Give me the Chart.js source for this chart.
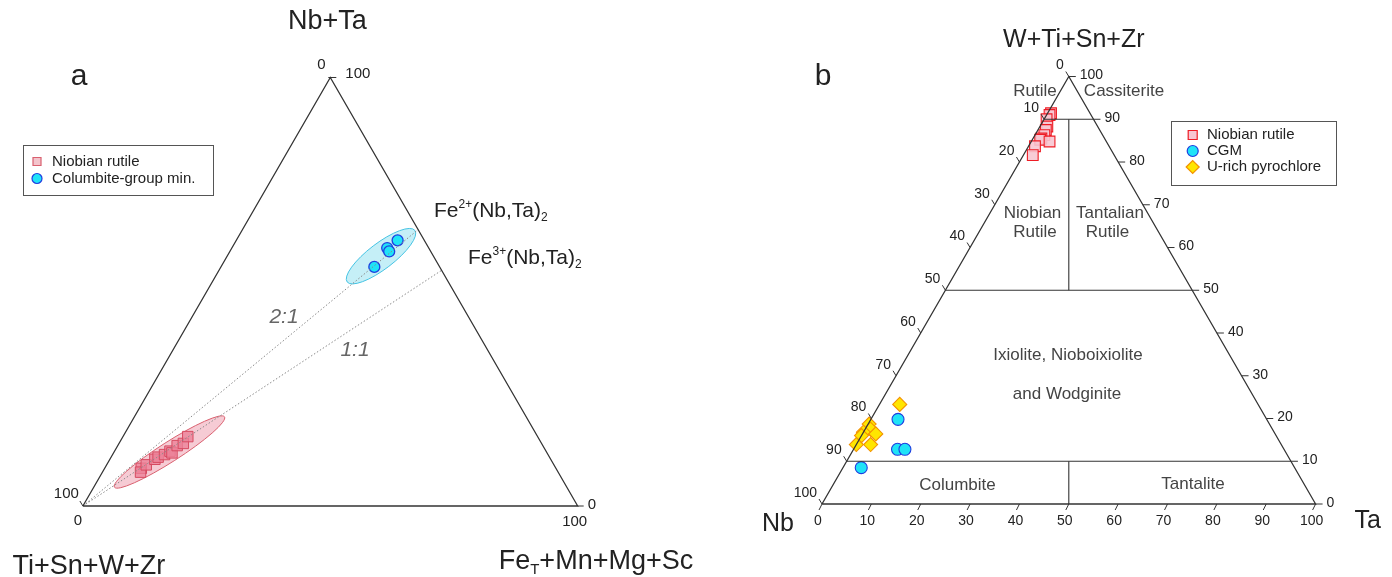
<!DOCTYPE html>
<html>
<head>
<meta charset="utf-8">
<script src="https://cdn.jsdelivr.net/npm/chart.js@4.4.1/dist/chart.umd.min.js"></script>
<style>
  html, body { margin: 0; padding: 0; background: #fff; }
  #wrap { position: relative; width: 1392px; height: 577px; overflow: hidden; }
  canvas { position: absolute; top: 0; }
</style>
</head>
<body>
<div id="wrap">
  <canvas id="chartA" width="740" height="577" style="left:0"></canvas>
  <canvas id="chartB" width="652" height="577" style="left:740px"></canvas>
</div>
<script>
// ---------- diagram a : Nb+Ta (top) vs FeT+Mn+Mg+Sc (right), rest = Ti+Sn+W+Zr ----------
const rutileA_NbTa = [8.8, 7.9, 9.6, 10.9, 11.4, 12.0, 12.8, 12.4, 14.1, 14.6, 16.2];
const rutileA_Fe   = [7.4, 7.7, 8.0, 9.1, 9.5, 10.5, 11.2, 11.8, 12.0, 13.0, 13.1];
const cgmA_NbTa = [55.8, 60.2, 59.4, 62.0];
const cgmA_Fe   = [31.0, 31.4, 32.2, 32.6];
// ratio lines from the Ti corner to the right edge
const ratioLabels  = ["2:1", "1:1"];
const ratioEndNbTa = [64.5, 55.0];
const ratioEndFe   = [35.5, 45.0];

// ---------- diagram b : W+Ti+Sn+Zr (top) vs Ta (right), rest = Nb ----------
const rutileB_W  = [91.4, 91.0, 90.0, 88.3, 87.5, 86.3, 85.5, 85.2, 84.8, 83.7, 81.6];
const rutileB_Ta = [0.7, 0.6, 0.5, 1.5, 1.6, 1.9, 1.7, 1.6, 3.7, 1.3, 1.9];
const cgmB_W  = [19.8, 12.8, 12.8, 8.5];
const cgmB_Ta = [5.5, 8.9, 10.4, 3.7];
const pyroB_W  = [23.3, 18.7, 17.5, 16.8, 16.4, 16.0, 13.9, 13.9];
const pyroB_Ta = [4.1, 0.2, 1.1, 0.0, 2.7, 0.0, 0.0, 2.9];
const tickValues = [0, 10, 20, 30, 40, 50, 60, 70, 80, 90, 100];

const FONT = "'Liberation Sans', Arial, sans-serif";
const H = Math.sqrt(3) / 2;
// ternary (top %, right %) -> cartesian
function tern(top, right) { return { x: right + top / 2, y: top * H }; }
function pts(tops, rights) { return tops.map((t, i) => tern(t, rights[i])); }

function makeScales(w, h, left, base, side) {
  const u = side / 100;
  return {
    x: { type: 'linear', display: false, min: -left / u, max: (w - left) / u },
    y: { type: 'linear', display: false, min: -(h - base) / u, max: base / u }
  };
}

function lineSet(data, color, width, dash) {
  return { type: 'scatter', data: data, showLine: true, borderColor: color, borderWidth: width,
           borderDash: dash || [], pointRadius: 0, fill: false, clip: false };
}

function text(ctx, s, x, y, size, align, color, style) {
  ctx.save();
  ctx.font = (style || '') + ' ' + size + 'px ' + FONT;
  ctx.fillStyle = color || '#222';
  ctx.textAlign = align || 'center';
  ctx.textBaseline = 'middle';
  ctx.fillText(s, x, y);
  ctx.restore();
}

// parts: [text, 'n' | 'sup' | 'sub']
function rich(ctx, parts, x, y, size, color) {
  ctx.save();
  ctx.fillStyle = color || '#222';
  ctx.textBaseline = 'alphabetic';
  ctx.textAlign = 'left';
  const base = y + size * 0.36;
  parts.forEach(([s, kind]) => {
    const fs = kind === 'n' ? size : Math.round(size * 0.55);
    ctx.font = fs + 'px ' + FONT;
    const dy = kind === 'sup' ? -size * 0.42 : kind === 'sub' ? size * 0.2 : 0;
    ctx.fillText(s, x, base + dy);
    x += ctx.measureText(s).width;
  });
  ctx.restore();
}

function seg(ctx, x1, y1, x2, y2, color, w) {
  ctx.save();
  ctx.strokeStyle = color || '#333';
  ctx.lineWidth = w || 1;
  ctx.beginPath(); ctx.moveTo(x1, y1); ctx.lineTo(x2, y2); ctx.stroke();
  ctx.restore();
}

function marker(ctx, style, x, y, r, fill, stroke) {
  ctx.save();
  ctx.fillStyle = fill; ctx.strokeStyle = stroke; ctx.lineWidth = 1.2;
  ctx.beginPath();
  if (style === 'rect') ctx.rect(x - r, y - r, 2 * r, 2 * r);
  else if (style === 'rectRot') { ctx.moveTo(x - r, y); ctx.lineTo(x, y - r); ctx.lineTo(x + r, y); ctx.lineTo(x, y + r); ctx.closePath(); }
  else ctx.arc(x, y, r, 0, Math.PI * 2);
  ctx.fill(); ctx.stroke();
  ctx.restore();
}

function pixFn(chart) {
  const xs = chart.scales.x, ys = chart.scales.y;
  return (top, right) => { const p = tern(top, right); return [xs.getPixelForValue(p.x), ys.getPixelForValue(p.y)]; };
}

// ---------------- chart a ----------------
const ellipsesA = [
  // centre (Nb+Ta, Fe), semi axes (%), angle (deg), fill, stroke
  { top: 12.6, right: 11.2, a: 13.2, b: 2.0, ang: 32.6, fill: 'rgba(236,140,160,0.45)', stroke: '#d9606f' },
  { top: 58.3, right: 31.1, a: 8.6, b: 2.6, ang: 37.3, fill: 'rgba(150,225,240,0.55)', stroke: '#45c3e3' }
];

const pluginA = {
  id: 'ternA',
  beforeDatasetsDraw(chart) {
    const ctx = chart.ctx, P = pixFn(chart);
    const u = chart.scales.x.getPixelForValue(1) - chart.scales.x.getPixelForValue(0);
    ellipsesA.forEach(e => {
      const [cx, cy] = P(e.top, e.right);
      ctx.save();
      ctx.beginPath();
      ctx.ellipse(cx, cy, e.a * u, e.b * u, -e.ang * Math.PI / 180, 0, Math.PI * 2);
      ctx.fillStyle = e.fill; ctx.fill();
      ctx.strokeStyle = e.stroke; ctx.lineWidth = 1; ctx.stroke();
      ctx.restore();
    });
  },
  afterDraw(chart) {
    const ctx = chart.ctx, P = pixFn(chart);
    const [ax, ay] = P(100, 0), [lx, ly] = P(0, 0), [rx, ry] = P(0, 100);
    // corner ticks and labels
    seg(ctx, ax - 2, ay, ax + 6, ay, '#333', 1);
    text(ctx, '0', ax - 9, ay - 13, 15);
    text(ctx, '100', ax + 15, ay - 4, 15, 'left');
    seg(ctx, lx, ly, lx - 3, ly - 5, '#333', 1);
    text(ctx, '100', lx - 4, ly - 12, 15, 'right');
    text(ctx, '0', lx - 5, ly + 15, 15);
    seg(ctx, rx, ry, rx + 6, ry, '#333', 1);
    text(ctx, '0', rx + 10, ry - 1, 15, 'left');
    text(ctx, '100', rx - 3, ry + 16, 15);
    // axis titles
    text(ctx, 'Nb+Ta', ax - 3, 22, 27);
    text(ctx, 'Ti+Sn+W+Zr', lx + 6, ly + 61, 27);
    rich(ctx, [['Fe', 'n'], ['T', 'sub'], ['+Mn+Mg+Sc', 'n']], rx - 79, ry + 53, 27);
    text(ctx, 'a', 79, 77, 30);
    // end member labels
    rich(ctx, [['Fe', 'n'], ['2+', 'sup'], ['(Nb,Ta)', 'n'], ['2', 'sub']], 434, 209, 21);
    rich(ctx, [['Fe', 'n'], ['3+', 'sup'], ['(Nb,Ta)', 'n'], ['2', 'sub']], 468, 256, 21);
    text(ctx, ratioLabels[0], 284, 317, 21, 'center', '#666', 'italic');
    text(ctx, ratioLabels[1], 355, 350, 21, 'center', '#666', 'italic');
    // legend
    ctx.save();
    ctx.strokeStyle = '#555'; ctx.lineWidth = 1;
    ctx.strokeRect(23.5, 145.5, 190, 50);
    ctx.restore();
    marker(ctx, 'rect', 37, 161.5, 4, '#f3c4cc', '#d9606f');
    marker(ctx, 'circle', 37, 178.5, 5, '#1fe3f7', '#1f3ee0');
    text(ctx, 'Niobian rutile', 52, 161.5, 15, 'left');
    text(ctx, 'Columbite-group min.', 52, 178.5, 15, 'left');
  }
};

const dsA = [
  lineSet([tern(0, 0), tern(0, 100), tern(100, 0), tern(0, 0)], '#333', 1.3),
  lineSet([tern(0, 0), tern(ratioEndNbTa[0], ratioEndFe[0])], '#888', 1, [1.5, 2]),
  lineSet([tern(0, 0), tern(ratioEndNbTa[1], ratioEndFe[1])], '#888', 1, [1.5, 2]),
  { type: 'scatter', label: 'Niobian rutile', data: pts(rutileA_NbTa, rutileA_Fe), pointStyle: 'rect',
    pointRadius: 7.4, backgroundColor: 'rgba(236,130,152,0.8)', borderColor: '#d64a60', borderWidth: 1, clip: false },
  { type: 'scatter', label: 'Columbite-group min.', data: pts(cgmA_NbTa, cgmA_Fe), pointStyle: 'circle',
    pointRadius: 5.5, backgroundColor: '#1fe3f7', borderColor: '#1f3ee0', borderWidth: 1.3, clip: false }
];

new Chart(document.getElementById('chartA'), {
  type: 'scatter',
  data: { datasets: dsA },
  options: {
    responsive: false, animation: false, devicePixelRatio: 1,
    layout: { padding: 0, autoPadding: false },
    scales: makeScales(740, 577, 82.9, 506, 494.8),
    plugins: { legend: { display: false }, tooltip: { enabled: false } }
  },
  plugins: [pluginA]
});

// ---------------- chart b ----------------
const regionLabels = [
  ['Rutile', 295, 91], ['Cassiterite', 384, 91],
  ['Niobian', 292.5, 213], ['Rutile', 295, 232], ['Tantalian', 370, 213], ['Rutile', 367.5, 232],
  ['Ixiolite, Nioboixiolite', 328, 355], ['and Wodginite', 327, 394],
  ['Columbite', 217.5, 485], ['Tantalite', 453, 484]
];

const pluginB = {
  id: 'ternB',
  afterDraw(chart) {
    const ctx = chart.ctx, P = pixFn(chart);
    tickValues.forEach(v => {
      const [bx, by] = P(0, v);
      seg(ctx, bx, by, bx - 3, by + 6, '#333', 1);
      text(ctx, String(v), bx - 4, by + 17, 14);
      const [lx, ly] = P(100 - v, 0);
      seg(ctx, lx, ly, lx - 3, ly - 5, '#333', 1);
      text(ctx, String(v), lx - 5, ly - 11, 14, 'right');
      const [rx, ry] = P(v, 100 - v);
      seg(ctx, rx, ry, rx + 7, ry, '#333', 1);
      text(ctx, String(v), rx + 11, ry - 1, 14, 'left');
    });
    regionLabels.forEach(([s, x, y]) => text(ctx, s, x, y, 17, 'center', '#444'));
    const [ax] = P(100, 0), [lx, ly] = P(0, 0), [rx, ry] = P(0, 100);
    text(ctx, 'W+Ti+Sn+Zr', ax + 5, 40, 25);
    text(ctx, 'Nb', lx - 44, ly + 20, 25);
    text(ctx, 'Ta', rx + 52, ry + 17, 25);
    text(ctx, 'b', 83, 77, 30);
    // legend
    ctx.save();
    ctx.strokeStyle = '#555'; ctx.lineWidth = 1;
    ctx.strokeRect(431.5, 121.5, 165, 64);
    ctx.restore();
    marker(ctx, 'rect', 452.7, 135, 4.5, '#f7c6d2', '#ee1c25');
    marker(ctx, 'circle', 452.7, 151, 5.5, '#1fe3f7', '#1f3ee0');
    marker(ctx, 'rectRot', 452.7, 167, 6.5, '#ffe600', '#f39200');
    text(ctx, 'Niobian rutile', 467, 135, 15, 'left');
    text(ctx, 'CGM', 467, 151, 15, 'left');
    text(ctx, 'U-rich pyrochlore', 467, 167, 15, 'left');
  }
};

const dsB = [
  lineSet([tern(0, 0), tern(0, 100), tern(100, 0), tern(0, 0)], '#333', 1.3),
  lineSet([tern(90, 0), tern(90, 10)], '#333', 1.1),
  lineSet([tern(50, 0), tern(50, 50)], '#333', 1.1),
  lineSet([tern(10, 0), tern(10, 90)], '#333', 1.1),
  lineSet([tern(90, 5), tern(50, 25)], '#333', 1.1),
  lineSet([tern(10, 45), tern(0, 50)], '#333', 1.1),
  { type: 'scatter', label: 'Niobian rutile', data: pts(rutileB_W, rutileB_Ta), pointStyle: 'rect',
    pointRadius: 7.6, backgroundColor: 'rgba(247,198,210,0.9)', borderColor: '#ee1c25', borderWidth: 1.1, clip: false },
  { type: 'scatter', label: 'CGM', data: pts(cgmB_W, cgmB_Ta), pointStyle: 'circle',
    pointRadius: 6, backgroundColor: '#1fe3f7', borderColor: '#1f3ee0', borderWidth: 1.1, clip: false },
  { type: 'scatter', label: 'U-rich pyrochlore', data: pts(pyroB_W, pyroB_Ta), pointStyle: 'rectRot',
    pointRadius: 7, backgroundColor: '#ffe600', borderColor: '#f39200', borderWidth: 1.1, clip: false }
];

new Chart(document.getElementById('chartB'), {
  type: 'scatter',
  data: { datasets: dsB },
  options: {
    responsive: false, animation: false, devicePixelRatio: 1,
    layout: { padding: 0, autoPadding: false },
    scales: makeScales(652, 577, 82, 504, 493.6),
    plugins: { legend: { display: false }, tooltip: { enabled: false } }
  },
  plugins: [pluginB]
});
</script>
</body>
</html>
